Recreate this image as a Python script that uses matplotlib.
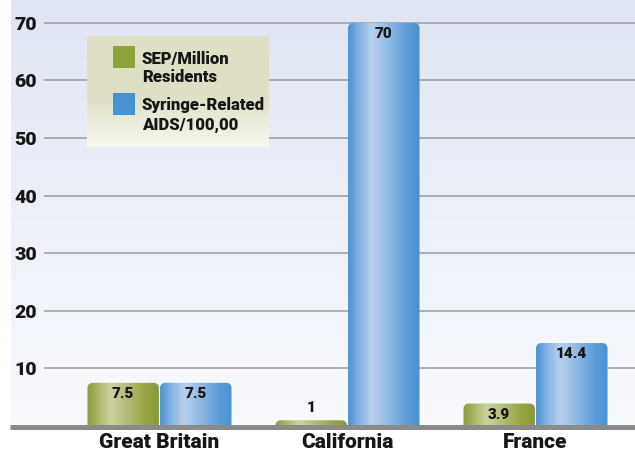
import numpy as np
import matplotlib
matplotlib.use('Agg')
import matplotlib.pyplot as plt
from matplotlib.path import Path
from matplotlib.patches import PathPatch, Rectangle
from matplotlib.colors import LinearSegmentedColormap

categories = ['Great Britain', 'California', 'France']
sep_values = [7.5, 1, 3.9]
aids_values = [7.5, 70, 14.4]
sep_labels = ['7.5', '1', '3.9']
aids_labels = ['7.5', '70', '14.4']
yticks = [10, 20, 30, 40, 50, 60, 70]
legend_labels = ['SEP/Million\nResidents', 'Syringe-Related\nAIDS/100,00']

plt.rcParams['font.family'] = ['Roboto', 'DejaVu Sans']
WEIGHT = 'heavy'
TXT = '#161616'
W, H = 635, 451
fig = plt.figure(figsize=(6.35, 4.51), dpi=100)
fig.patch.set_facecolor('white')

# background panel gradient
bg = fig.add_axes([0, 0, 1, 1], zorder=-10)
bg.set_xlim(0, W); bg.set_ylim(H, 0); bg.axis('off')
t = np.linspace(0, 1, 256)[:, None, None]
c_top = np.array([0.875, 0.898, 0.955]); c_bot = np.array([0.975, 0.982, 0.995])
bg.imshow(c_top + (c_bot - c_top) * t, extent=(11, W, 426, 0), aspect='auto',
          interpolation='bicubic')
bg.set_xlim(0, W); bg.set_ylim(H, 0)

# main axes
PX_PER_UNIT = 57.6 / 10
ZERO_Y = 426
ax = fig.add_axes([44 / W, (H - ZERO_Y) / H, 1 - 44 / W, ZERO_Y / H])
ax.patch.set_alpha(0)
for s in ax.spines.values():
    s.set_visible(False)
group_px = 188.0
xl = (44 - 159.5) / group_px
xr = (W - 159.5) / group_px
ylim = (0, ZERO_Y / PX_PER_UNIT)

x = np.arange(len(categories))
bw = 0.38
off = 0.193
bars_sep = ax.bar(x - off, sep_values, bw, alpha=0)
bars_aids = ax.bar(x + off, aids_values, bw, alpha=0)

green_cmap = LinearSegmentedColormap.from_list('g', [
    (0.0, '#8d9c3b'), (0.12, '#a5ae5c'), (0.33, '#cfd1a3'), (0.55, '#b7bb78'),
    (0.8, '#9aa646'), (1.0, '#8a9a37')])
blue_cmap = LinearSegmentedColormap.from_list('b', [
    (0.0, '#4a92d2'), (0.12, '#79ace0'), (0.33, '#b9d0ec'), (0.55, '#93bbe5'),
    (0.8, '#5e9fd8'), (1.0, '#4890d1')])

rx = 5 / group_px
ry = 5 / PX_PER_UNIT
k = 0.5523


def top_rounded(x0, w, h):
    r_y = min(ry, h); r_x = min(rx, w / 2)
    verts = [(x0, 0), (x0, h - r_y), (x0, h - r_y + k * r_y), (x0 + r_x - k * r_x, h),
             (x0 + r_x, h), (x0 + w - r_x, h), (x0 + w - r_x + k * r_x, h),
             (x0 + w, h - r_y + k * r_y), (x0 + w, h - r_y), (x0 + w, 0), (x0, 0)]
    codes = [Path.MOVETO, Path.LINETO, Path.CURVE4, Path.CURVE4, Path.CURVE4,
             Path.LINETO, Path.CURVE4, Path.CURVE4, Path.CURVE4, Path.LINETO,
             Path.CLOSEPOLY]
    return Path(verts, codes)


grad = np.linspace(0, 1, 256)[None, :]
for bars, cmap, labels in [(bars_sep, green_cmap, sep_labels),
                           (bars_aids, blue_cmap, aids_labels)]:
    for rect, lab in zip(bars, labels):
        x0, w, h = rect.get_x(), rect.get_width(), rect.get_height()
        patch = PathPatch(top_rounded(x0, w, h), facecolor='none', edgecolor='none')
        ax.add_patch(patch)
        im = ax.imshow(grad, cmap=cmap, extent=(x0, x0 + w, 0, h), aspect='auto',
                       interpolation='bicubic', zorder=2)
        im.set_clip_path(patch)
        dy = -11 if h > 2 else 12
        ax.annotate(lab, (x0 + w / 2, h), xytext=(0, dy), textcoords='offset pixels',
                    ha='center', va='center', fontsize=11, fontweight=WEIGHT,
                    color=TXT, zorder=5)

ax.set_xlim(xl, xr)
ax.set_ylim(*ylim)
ax.set_yticks(yticks)
ax.set_yticklabels([str(v) for v in yticks])
ax.yaxis.grid(True, color='#9c9c9c', lw=1.1)
ax.set_axisbelow(True)
ax.tick_params(axis='y', length=0, pad=5, labelsize=14, labelcolor=TXT)
for lbl in ax.get_yticklabels():
    lbl.set_fontweight(WEIGHT)
ax.set_xticks(x)
ax.set_xticklabels(categories, fontsize=15, fontweight=WEIGHT, color=TXT)
ax.tick_params(axis='x', length=0, pad=5)

# baseline
ax.plot([(10 - 44) / (W - 44), 1], [-0.09, -0.09], transform=ax.get_yaxis_transform(),
        color='#8a8a8a', lw=3.6, clip_on=False, zorder=6, solid_capstyle='butt')

# legend
lg = fig.add_axes([0, 0, 1, 1], zorder=10)
lg.patch.set_alpha(0)
lg.axis('off')
c1 = np.array([0.875, 0.875, 0.78]); c2 = np.array([0.97, 0.97, 0.935])
tt = np.linspace(0, 1, 128)[:, None, None]
lg.imshow(c1 + (c2 - c1) * np.clip((tt - 0.55) / 0.45, 0, 1), extent=(87, 269, 147, 36),
          aspect='auto', interpolation='bicubic')
swatch_colors = ['#8fa33b', '#4494d4']
swatch_y = [46, 93]
for col, sy, lab in zip(swatch_colors, swatch_y, legend_labels):
    lg.add_patch(Rectangle((113, sy), 22, 22, facecolor=col, edgecolor='none'))
    lg.text(142, sy + 22, lab, ha='left', va='center', fontsize=12, fontweight=WEIGHT,
            color=TXT, linespacing=1.22)
lg.set_xlim(0, W); lg.set_ylim(H, 0)

fig.savefig('out.png', dpi=100)
